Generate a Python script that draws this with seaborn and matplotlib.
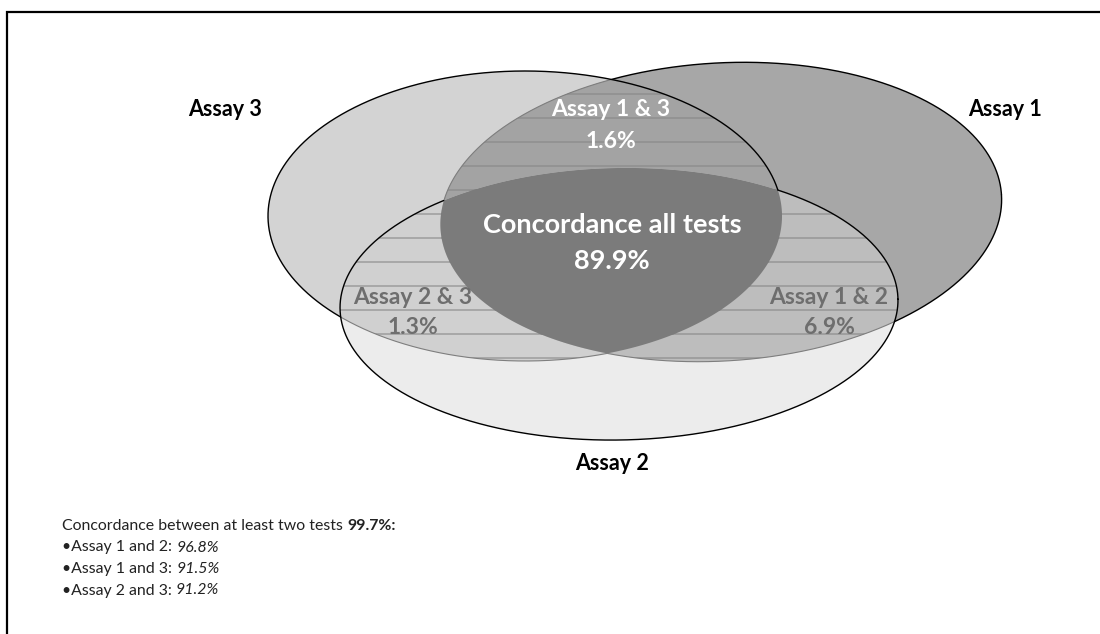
import numpy as np
import seaborn as sns
import matplotlib.pyplot as plt
from matplotlib.patches import Polygon

# values shown on the chart
set_names = ["Assay 1", "Assay 2", "Assay 3"]
pair_names = ["Assay 1 & 3", "Assay 2 & 3", "Assay 1 & 2"]
pair_pct = [1.6, 1.3, 6.9]
all_name = "Concordance all tests"
all_pct = 89.9
two_tests_pct = 99.7
concord_names = ["Assay 1 and 2", "Assay 1 and 3", "Assay 2 and 3"]
concord_pct = [96.8, 91.5, 91.2]

sns.set_style("white")
plt.rcParams["font.family"] = ["Lato", "DejaVu Sans"]

# ellipse layout in pixel units: centre x, centre y, half width, half height, tilt (deg)
shapes = {
    "Assay 1": (721, 212, 281, 149, 3.5),
    "Assay 2": (619, 304, 279, 136, 1.0),
    "Assay 3": (525, 216, 257, 145, 0.0),
}
fill = {"Assay 1": "#a7a7a7", "Assay 2": "#ececec", "Assay 3": "#d3d3d3"}
pair_fill = {"Assay 1 & 3": "#a3a3a3", "Assay 2 & 3": "#d0d0d0", "Assay 1 & 2": "#bdbdbd"}
pair_sets = {"Assay 1 & 3": ("Assay 1", "Assay 3"), "Assay 2 & 3": ("Assay 2", "Assay 3"),
             "Assay 1 & 2": ("Assay 1", "Assay 2")}


def boundary(name, n=3000):
    cx, cy, a, b, ang = shapes[name]
    t = np.linspace(0, 2 * np.pi, n)
    th = np.deg2rad(ang)
    x = a * np.cos(t)
    y = b * np.sin(t)
    # y axis points down, so a positive tilt lifts the right end
    return np.column_stack([cx + x * np.cos(th) + y * np.sin(th), cy - x * np.sin(th) + y * np.cos(th)])


def inside(name, pts, tol=1e-9):
    cx, cy, a, b, ang = shapes[name]
    th = np.deg2rad(ang)
    dx = pts[:, 0] - cx
    dy = pts[:, 1] - cy
    u = dx * np.cos(th) - dy * np.sin(th)
    v = dx * np.sin(th) + dy * np.cos(th)
    return (u / a) ** 2 + (v / b) ** 2 <= 1 + tol


def overlap(names):
    # intersection of convex shapes: keep boundary points lying inside all the others
    keep = []
    for nm in names:
        p = boundary(nm)
        m = np.ones(len(p), bool)
        for other in names:
            if other != nm:
                m &= inside(other, p, 1e-6)
        keep.append(p[m])
    p = np.vstack(keep)
    c = p.mean(axis=0)
    order = np.argsort(np.arctan2(p[:, 1] - c[1], p[:, 0] - c[0]))
    return p[order]


fig = plt.figure(figsize=(11, 6.34), dpi=100)
ax = fig.add_axes([0, 0, 1, 1])
ax.set_xlim(0, 1100)
ax.set_ylim(634, 0)
ax.axis("off")

for nm in ["Assay 3", "Assay 1", "Assay 2"]:
    ax.add_patch(Polygon(boundary(nm), closed=True, facecolor=fill[nm], edgecolor="none", zorder=1))

hatch_y = np.arange(94, 380, 24)
for pn in pair_names:
    poly = Polygon(overlap(pair_sets[pn]), closed=True, facecolor=pair_fill[pn], edgecolor="none", zorder=2)
    ax.add_patch(poly)
    hl = ax.hlines(hatch_y, 250, 1000, colors="#878787", linewidth=1.1, alpha=0.7, zorder=3)
    hl.set_clip_path(poly)

ax.add_patch(Polygon(overlap(["Assay 1", "Assay 2", "Assay 3"]), closed=True,
                     facecolor="#7b7b7b", edgecolor="none", zorder=4))

# outlines: black outside, thin grey where they run over another set, hidden in the centre
grey_over = {"Assay 1": ["Assay 3", "Assay 2"], "Assay 2": [], "Assay 3": ["Assay 2"]}
for nm in set_names:
    p = boundary(nm)
    others = [o for o in set_names if o != nm]
    centre = inside(others[0], p, -1e-3) & inside(others[1], p, -1e-3)
    grey = np.zeros(len(p), bool)
    for o in grey_over[nm]:
        grey |= inside(o, p, -1e-3)
    blk = p.copy()
    blk[grey | centre] = np.nan
    gry = p.copy()
    gry[~grey | centre] = np.nan
    ax.plot(gry[:, 0], gry[:, 1], color="#7e7e7e", lw=0.8, zorder=5)
    ax.plot(blk[:, 0], blk[:, 1], color="black", lw=1.0, zorder=6)

# set names
set_pos = {"Assay 1": (1005, 110), "Assay 2": (612, 463), "Assay 3": (225, 110)}
for nm in set_names:
    ax.text(*set_pos[nm], nm, ha="center", va="center", fontsize=15.5, fontweight="bold", color="black", zorder=7)

# pairwise-only regions
pair_pos = {"Assay 1 & 3": (611, 110), "Assay 2 & 3": (413, 297), "Assay 1 & 2": (829, 297)}
pair_col = {"Assay 1 & 3": "white", "Assay 2 & 3": "#6e6e6e", "Assay 1 & 2": "#6e6e6e"}
for pn, pct in zip(pair_names, pair_pct):
    x, y = pair_pos[pn]
    ax.text(x, y, pn, ha="center", va="center", fontsize=16.5, fontweight="bold", color=pair_col[pn], zorder=7)
    ax.text(x, y + 31, f"{pct}%", ha="center", va="center", fontsize=16.5, fontweight="bold",
            color=pair_col[pn], zorder=7)

ax.text(612, 225, all_name, ha="center", va="center", fontsize=19.5, fontweight="bold", color="white", zorder=7)
ax.text(612, 261, f"{all_pct}%", ha="center", va="center", fontsize=19.5, fontweight="bold", color="white", zorder=7)

# summary underneath
t = ax.text(62, 526, "Concordance between at least two tests ", ha="left", va="center", fontsize=11.4, color="#222222")
ax.annotate(f"{two_tests_pct}%:", xy=(1, 0.5), xycoords=t, ha="left", va="center", fontsize=11.4,
            fontweight="bold", color="#222222")
for i, (cn, cp) in enumerate(zip(concord_names, concord_pct)):
    t = ax.text(62, 547.5 + 21.5 * i, f"\u2022{cn}: ", ha="left", va="center", fontsize=11.4, color="#222222")
    ax.annotate(f"{cp}%", xy=(1, 0.5), xycoords=t, ha="left", va="center", fontsize=11.4,
                style="italic", color="#222222")

# frame running off the right and bottom edges
ax.plot([7, 7, 1100], [634, 12, 12], color="black", lw=1.6, solid_joinstyle="miter", clip_on=False)

fig.savefig("out.png", dpi=100)
